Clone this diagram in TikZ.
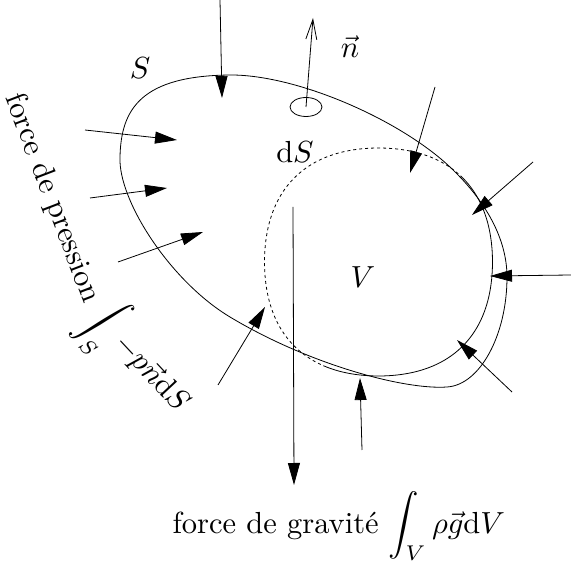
\documentclass[tikz,border=0pt]{standalone}
\usetikzlibrary{arrows.meta,shapes.geometric}
\begin{document}
\begin{tikzpicture}[x=1pt,y=1pt,
  line/.style={line width=0.8pt},
  push/.style={line width=0.8pt,-{Triangle[length=22pt,width=12pt]}},
  normal/.style={line width=0.8pt,-{Straight Barb[length=20pt,width=11pt]}},
  lbl/.style={scale=3.05,inner sep=0pt}]
\useasboundingbox (0,0) rectangle (571,-561);
% outer surface S
\draw[line] (233,-75) .. controls (300,-76) and (400,-120) .. (450,-167)
  .. controls (487,-202) and (507,-240) .. (507,-277)
  .. controls (507,-335) and (480,-385) .. (447,-387)
  .. controls (405,-390) and (310,-365) .. (230,-317)
  .. controls (170,-281) and (118,-200) .. (120,-157)
  .. controls (121,-110) and (140,-75) .. cycle;
% volume V
\draw[line] plot[domain=45:-118,samples=80,smooth]
  ({378.5+(114+5*sin(2*\x)*sin(2*\x))*cos(\x)},{-262+(114+5*sin(2*\x)*sin(2*\x))*sin(\x)});
\draw[line,dashed] plot[domain=45:242,samples=80,smooth]
  ({378.5+(114+5*sin(2*\x)*sin(2*\x))*cos(\x)},{-262+(114+5*sin(2*\x)*sin(2*\x))*sin(\x)});
% surface element and normal
\node[draw,line width=0.8pt,ellipse,minimum width=32pt,minimum height=19pt,inner sep=0pt] (dse) at (306,-107) {};
\coordinate (ntip) at (313,-18);
\draw[normal] (dse.center) -- (ntip);
% pressure arrows
\coordinate (a1s) at (220,0);     \coordinate (a1e) at (222,-98);
\coordinate (a2s) at (85,-130);   \coordinate (a2e) at (177,-140);
\coordinate (a3s) at (90,-198);   \coordinate (a3e) at (167,-188);
\coordinate (a4s) at (118,-262);  \coordinate (a4e) at (203,-232);
\coordinate (a5s) at (218,-385);  \coordinate (a5e) at (265,-307);
\coordinate (a6s) at (362,-450);  \coordinate (a6e) at (360,-378);
\coordinate (a7s) at (512,-392);  \coordinate (a7e) at (457,-340);
\coordinate (a8s) at (571,-275);  \coordinate (a8e) at (490,-276);
\coordinate (a9s) at (533,-162);  \coordinate (a9e) at (472,-215);
\coordinate (a10s) at (435,-87);  \coordinate (a10e) at (410,-173);
\foreach \i in {1,...,10} {\draw[push] (a\i s) -- (a\i e);}
% gravity
\coordinate (gs) at (293,-207); \coordinate (ge) at (294,-485);
\draw[push] (gs) -- (ge);
% labels
\node[lbl] (lS) at (140,-68) {$S$};
\node[lbl] (ln) at (350,-47) {$\vec n$};
\node[lbl] (ldS) at (295,-152) {$\mathrm{d}S$};
\node[lbl] (lV) at (363,-277) {$V$};
\node[lbl,rotate=-69] (lp1) at (52,-198) {force de pression};
\node[lbl,rotate=-47] (lp2) at (137,-360) {$\displaystyle\int_S -p\vec n\mathrm{d}S$};
\node[lbl,anchor=base west] (lg) at (172,-533) {force de gravit\'e $\displaystyle\int_V \rho\vec g\mathrm{d}V$};
\end{tikzpicture}
\end{document}
